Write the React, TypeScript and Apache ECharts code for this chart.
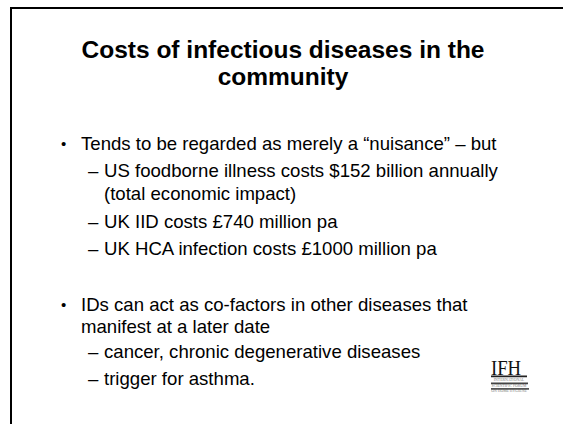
import React, { useEffect, useRef } from "react";
import * as echarts from "echarts";

const TITLE_LINES = ["Costs of infectious diseases in the", "community"];
const BODY_LINES = [
  "Tends to be regarded as merely a \u201cnuisance\u201d \u2013 but",
  "US foodborne illness costs $152 billion annually",
  "(total economic impact)",
  "UK IID costs \u00a3740 million pa",
  "UK HCA infection costs \u00a31000 million pa",
  "IDs can act as co-factors in other diseases that",
  "manifest at a later date",
  "cancer, chronic degenerative diseases",
  "trigger for asthma.",
];
const BODY_MARKERS = ["\u2022", "\u2013", "", "\u2013", "\u2013", "\u2022", "", "\u2013", "\u2013"];
const BODY_LEVELS = [1, 2, 2, 2, 2, 1, 1, 2, 2];
const LOGO_TEXT = "IFH";
const LOGO_SUB = ["INTERNATIONAL", "SCIENTIFIC FORUM", "ON HOME HYGIENE"];

export default function App() {
  const ref = useRef<HTMLDivElement>(null);
  useEffect(() => {
    const chart = echarts.init(ref.current!, null, { renderer: "svg" });
    const SANS = '"Liberation Sans", Arial, sans-serif';
    const SERIF = '"Liberation Serif", "Times New Roman", serif';
    const bodyY = [143.5, 170.5, 193, 221, 248.5, 304.5, 326.5, 351.5, 378.5];
    const markerX: Record<number, number> = { 1: 61, 2: 88 };
    const markerFs: Record<number, number> = { 1: 15, 2: 18.6 };
    const textX: Record<number, number> = { 1: 81, 2: 104 };
    const fs = 18.6;
    const els: any[] = [];
    els.push({
      type: "rect",
      shape: { x: 11, y: 8, width: 700, height: 600 },
      style: { fill: "#fff", stroke: "#000", lineWidth: 2 },
    });
    TITLE_LINES.forEach((t, i) => {
      els.push({
        type: "text",
        x: 283,
        y: 49 + i * 27,
        style: {
          text: t,
          fontSize: 24.5,
          fontWeight: "bold",
          fontFamily: SANS,
          fill: "#000",
          align: "center",
          verticalAlign: "middle",
          textAlign: "center",
          textVerticalAlign: "middle",
        },
      });
    });
    BODY_LINES.forEach((t, i) => {
      const lvl = BODY_LEVELS[i];
      const m = BODY_MARKERS[i];
      if (m) {
        els.push({
          type: "text",
          x: markerX[lvl],
          y: bodyY[i],
          style: {
            text: m,
            fontSize: markerFs[lvl],
            fontFamily: SANS,
            fill: "#000",
            align: "left",
            verticalAlign: "middle",
            textAlign: "left",
            textVerticalAlign: "middle",
          },
        });
      }
      els.push({
        type: "text",
        x: textX[lvl],
        y: bodyY[i],
        style: {
          text: t,
          fontSize: fs,
          fontFamily: SANS,
          fill: "#000",
          align: "left",
          verticalAlign: "middle",
          textAlign: "left",
          textVerticalAlign: "middle",
        },
      });
    });
    // logo
    const logo: any[] = [];
    logo.push({
      type: "text",
      x: 0,
      y: 0,
      scaleX: 0.85,
      style: {
        text: LOGO_TEXT,
        fontSize: 22,
        fontFamily: SERIF,
        fill: "#111",
        align: "left",
        verticalAlign: "top",
        textAlign: "left",
        textVerticalAlign: "top",
      },
    });
    logo.push({ type: "rect", shape: { x: 0, y: 19.5, width: 36, height: 1.8 }, style: { fill: "#222" } });
    LOGO_SUB.forEach((s, i) => {
      logo.push({
        type: "text",
        x: 18,
        y: 24 + i * 5.5,
        style: {
          text: s,
          fontSize: 3.8,
          fontFamily: SERIF,
          fill: "#777",
          align: "center",
          verticalAlign: "middle",
          textAlign: "center",
          textVerticalAlign: "middle",
        },
      });
    });
    logo.push({ type: "rect", shape: { x: 0, y: 26.5, width: 37, height: 1.8 }, style: { fill: "#444" } });
    logo.push({ type: "rect", shape: { x: 0, y: 32, width: 38, height: 1.8 }, style: { fill: "#555" } });
    els.push({ type: "group", x: 491, y: 356, children: logo });

    chart.setOption({
      animation: false,
      graphic: { elements: els },
    });
    return () => chart.dispose();
  }, []);
  return (
    <div
      ref={ref}
      style={{ position: "absolute", left: 0, top: 0, width: 563, height: 424, background: "#fff" }}
    />
  );
}
